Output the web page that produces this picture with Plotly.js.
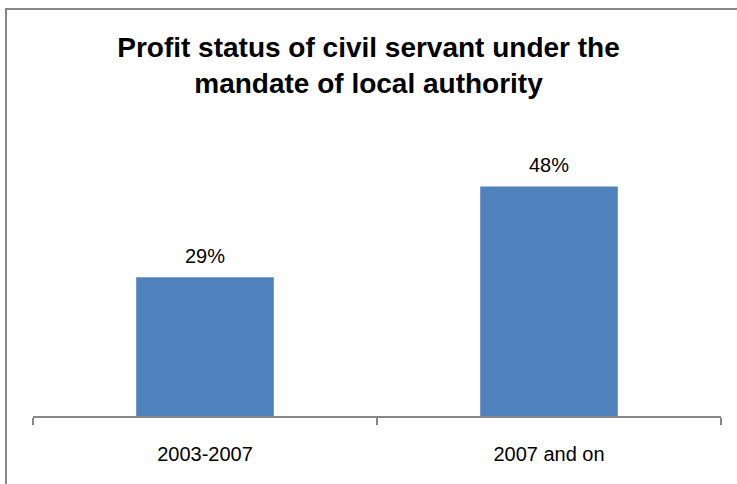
<!DOCTYPE html>
<html>
<head>
<meta charset="utf-8">
<script src="https://cdn.plot.ly/plotly-3.0.1.min.js"></script>
<style>
html,body{margin:0;padding:0;background:#fff;}
#wrap{position:relative;width:737px;height:484px;overflow:hidden;}
#chart{position:absolute;left:0;top:0;width:737px;height:484px;}
#frame{position:absolute;left:5px;top:8px;width:800px;height:600px;border-left:2px solid #878787;border-top:2px solid #878787;pointer-events:none;}
</style>
</head>
<body>
<div id="wrap"><div id="chart"></div><div id="frame"></div></div>
<script>
const categories = ["2003-2007", "2007 and on"];
const values = [0.29, 0.48];
const labels = ["29%", "48%"];
const titleText = "Profit status of civil servant under the<br>mandate of local authority";

const FONT = "Liberation Sans, Arial, sans-serif";

const trace = {
  type: "bar",
  x: categories,
  y: values,
  marker: {color: "#4F81BD", line: {width: 0}},
  width: 0.4,
  hoverinfo: "none"
};

const annotations = categories.map((c, i) => ({
  x: c, y: values[i], xref: "x", yref: "y",
  text: labels[i], showarrow: false,
  yanchor: "bottom", yshift: 8,
  font: {family: FONT, size: 20, color: "#000"}
}));

const layout = {
  width: 737, height: 484,
  margin: {l: 33, r: 16, t: 129, b: 68},
  paper_bgcolor: "#fff", plot_bgcolor: "#fff",
  showlegend: false,
  title: {
    text: titleText,
    font: {family: FONT, size: 28, color: "#000", weight: "bold"},
    x: 0.5, xanchor: "center",
    y: 1 - 57/484, yref: "container", yanchor: "top"
  },
  xaxis: {
    showline: true, linecolor: "#878787", linewidth: 2,
    ticks: "outside", ticklen: 7, tickcolor: "#878787", tickwidth: 2,
    tickson: "boundaries",
    ticklabelstandoff: 19,
    tickfont: {family: FONT, size: 20, color: "#000"},
    showgrid: false, zeroline: false, fixedrange: true
  },
  yaxis: {
    range: [0, 0.6],
    visible: false, showgrid: false, zeroline: false, fixedrange: true
  },
  annotations: annotations,
  bargap: 0.6
};

Plotly.newPlot("chart", [trace], layout, {staticPlot: true, displayModeBar: false});
</script>
</body>
</html>
